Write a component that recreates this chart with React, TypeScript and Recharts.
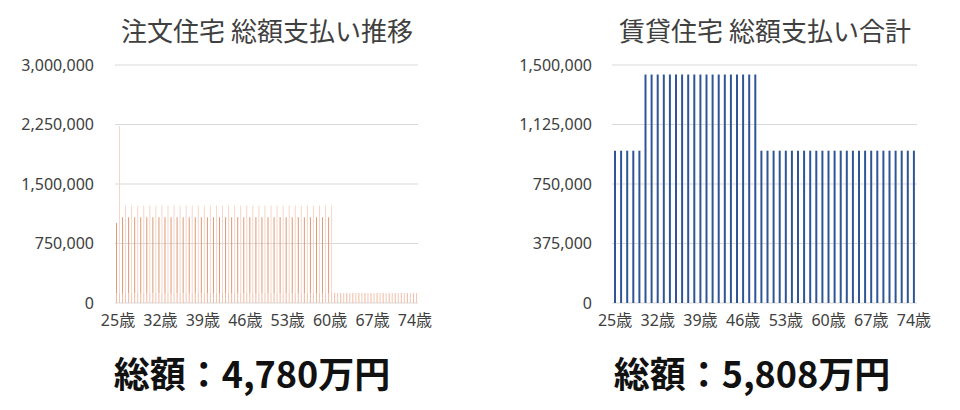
import { BarChart, Bar, XAxis, YAxis, CartesianGrid } from "recharts";

// age categories (25歳 - 74歳)
const ages = [
  "25歳", "26歳", "27歳", "28歳", "29歳", "30歳", "31歳", "32歳", "33歳", "34歳",
  "35歳", "36歳", "37歳", "38歳", "39歳", "40歳", "41歳", "42歳", "43歳", "44歳",
  "45歳", "46歳", "47歳", "48歳", "49歳", "50歳", "51歳", "52歳", "53歳", "54歳",
  "55歳", "56歳", "57歳", "58歳", "59歳", "60歳", "61歳", "62歳", "63歳", "64歳",
  "65歳", "66歳", "67歳", "68歳", "69歳", "70歳", "71歳", "72歳", "73歳", "74歳",
];

// 注文住宅: two stacked bars per year (bottom = small recurring cost)
const loanA = [
  884000, 954000, 954000, 954000, 954000, 954000, 954000, 954000, 954000, 954000,
  954000, 954000, 954000, 954000, 954000, 954000, 954000, 954000, 954000, 954000,
  954000, 954000, 954000, 954000, 954000, 954000, 954000, 954000, 954000, 954000,
  954000, 954000, 954000, 954000, 954000, 954000, 0, 0, 0, 0,
  0, 0, 0, 0, 0, 0, 0, 0, 0, 0,
];
const costA = [
  126000, 126000, 126000, 126000, 126000, 126000, 126000, 126000, 126000, 126000,
  126000, 126000, 126000, 126000, 126000, 126000, 126000, 126000, 126000, 126000,
  126000, 126000, 126000, 126000, 126000, 126000, 126000, 126000, 126000, 126000,
  126000, 126000, 126000, 126000, 126000, 126000, 126000, 126000, 126000, 126000,
  126000, 126000, 126000, 126000, 126000, 126000, 126000, 126000, 126000, 126000,
];
const loanB = [
  2104000, 1104000, 1104000, 1104000, 1104000, 1104000, 1104000, 1104000, 1104000, 1104000,
  1104000, 1104000, 1104000, 1104000, 1104000, 1104000, 1104000, 1104000, 1104000, 1104000,
  1104000, 1104000, 1104000, 1104000, 1104000, 1104000, 1104000, 1104000, 1104000, 1104000,
  1104000, 1104000, 1104000, 1104000, 1104000, 1104000, 0, 0, 0, 0,
  0, 0, 0, 0, 0, 0, 0, 0, 0, 0,
];
const costB = [
  126000, 126000, 126000, 126000, 126000, 126000, 126000, 126000, 126000, 126000,
  126000, 126000, 126000, 126000, 126000, 126000, 126000, 126000, 126000, 126000,
  126000, 126000, 126000, 126000, 126000, 126000, 126000, 126000, 126000, 126000,
  126000, 126000, 126000, 126000, 126000, 126000, 126000, 126000, 126000, 126000,
  126000, 126000, 126000, 126000, 126000, 126000, 126000, 126000, 126000, 126000,
];

// 賃貸住宅: yearly rent
const rent = [
  960000, 960000, 960000, 960000, 960000, 1440000, 1440000, 1440000, 1440000, 1440000,
  1440000, 1440000, 1440000, 1440000, 1440000, 1440000, 1440000, 1440000, 1440000, 1440000,
  1440000, 1440000, 1440000, 1440000, 960000, 960000, 960000, 960000, 960000, 960000,
  960000, 960000, 960000, 960000, 960000, 960000, 960000, 960000, 960000, 960000,
  960000, 960000, 960000, 960000, 960000, 960000, 960000, 960000, 960000, 960000,
];

const houseTicks = [0, 750000, 1500000, 2250000, 3000000];
const rentTicks = [0, 375000, 750000, 1125000, 1500000];

const houseData = ages.map((age, i) => ({
  age,
  costA: costA[i],
  loanA: loanA[i],
  costB: costB[i],
  loanB: loanB[i],
}));
const rentData = ages.map((age, i) => ({ age, rent: rent[i] }));

const fmt = (v: number) => v.toLocaleString("en-US");
const font = "'Noto Sans', 'Noto Sans CJK JP', sans-serif";
const tick = { fontSize: 16, fill: "#404040", fontFamily: font };

const titleStyle = (left: number): React.CSSProperties => ({
  position: "absolute",
  left,
  width: 300,
  top: 12,
  textAlign: "center",
  fontSize: 26,
  color: "#404040",
  fontFamily: "'Noto Sans CJK JP', sans-serif",
  lineHeight: "36px",
});

const totalStyle = (left: number): React.CSSProperties => ({
  position: "absolute",
  left,
  width: 360,
  top: 348,
  textAlign: "center",
  fontSize: 36,
  fontWeight: 700,
  color: "#111",
  fontFamily: "'Noto Sans CJK JP', sans-serif",
  lineHeight: "48px",
});

export default function App() {
  return (
    <div style={{ position: "absolute", left: 0, top: 0, width: 960, height: 410, background: "#fff" }}>
      <div style={titleStyle(117)}>注文住宅 総額支払い推移</div>
      <div style={titleStyle(615)}>賃貸住宅 総額支払い合計</div>

      <div style={{ position: "absolute", left: 0, top: 0 }}>
        <BarChart
          width={480}
          height={340}
          data={houseData}
          margin={{ top: 65, right: 62, left: 0, bottom: 7 }}
          barGap={2}
          barCategoryGap={0}
        >
          <CartesianGrid vertical={false} stroke="#d9d9d9" />
          <XAxis
            dataKey="age"
            interval={6}
            height={30}
            tick={tick}
            tickLine={false}
            axisLine={false}
            tickMargin={6}
          />
          <YAxis
            width={115}
            domain={[0, 3000000]}
            ticks={houseTicks}
            tickFormatter={fmt}
            tick={tick}
            tickLine={false}
            axisLine={false}
            tickMargin={15}
          />
          <Bar dataKey="costA" stackId="a" fill="#eeb8a0" barSize={1} isAnimationActive={false} />
          <Bar dataKey="loanA" stackId="a" fill="#dc9a78" barSize={1} isAnimationActive={false} />
          <Bar dataKey="costB" stackId="b" fill="#f2c6b3" barSize={1} isAnimationActive={false} />
          <Bar dataKey="loanB" stackId="b" fill="#f6d6c8" barSize={1} isAnimationActive={false} />
        </BarChart>
      </div>

      <div style={{ position: "absolute", left: 480, top: 0 }}>
        <BarChart
          width={480}
          height={340}
          data={rentData}
          margin={{ top: 65, right: 43, left: 0, bottom: 7 }}
          barCategoryGap={0}
        >
          <CartesianGrid vertical={false} stroke="#d9d9d9" />
          <XAxis
            dataKey="age"
            interval={6}
            height={30}
            tick={tick}
            tickLine={false}
            axisLine={false}
            tickMargin={6}
          />
          <YAxis
            width={132}
            domain={[0, 1500000]}
            ticks={rentTicks}
            tickFormatter={fmt}
            tick={tick}
            tickLine={false}
            axisLine={false}
            tickMargin={14}
          />
          <Bar dataKey="rent" fill="#2f5597" barSize={2} isAnimationActive={false} />
        </BarChart>
      </div>

      <div style={totalStyle(72)}>総額：4,780万円</div>
      <div style={totalStyle(572)}>総額：5,808万円</div>
    </div>
  );
}
